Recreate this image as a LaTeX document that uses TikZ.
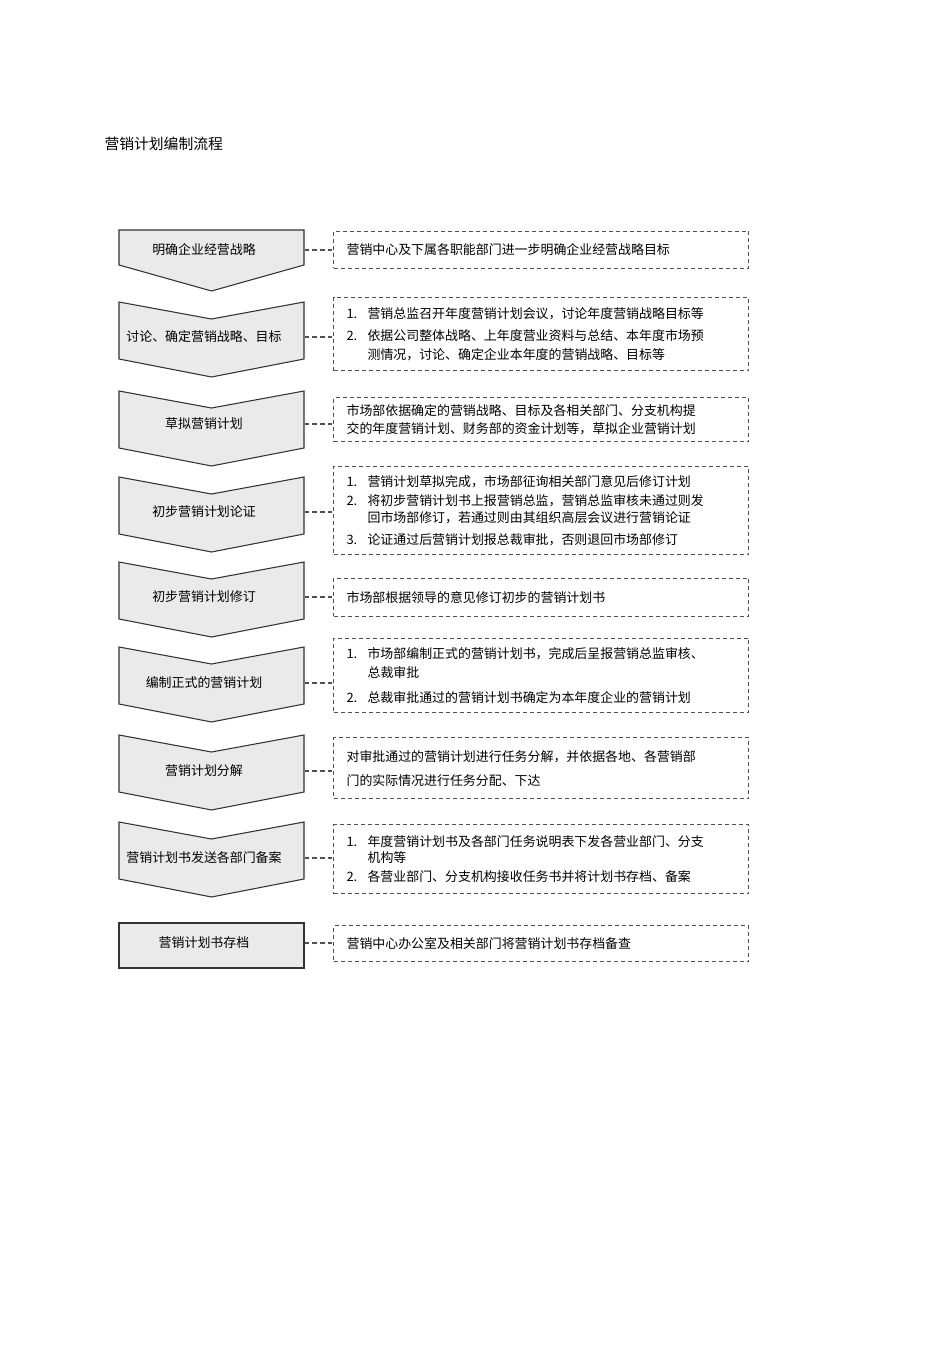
\documentclass[tikz,border=0pt]{standalone}
\usepackage{fontspec}
\setmainfont{Noto Sans CJK SC}

\newcommand\itemno[1]{\makebox[15.75pt][l]{#1}}
\newcommand\itemgap{\hspace*{15.75pt}}

\tikzset{every picture/.style={line width=0.75pt}}
\tikzset{
  stepshape/.style={draw={rgb, 255:red, 51; green, 51; blue, 51}, fill={rgb, 255:red, 234; green, 234; blue, 234}, fill opacity=1, line width=0.8pt},
  steptext/.style={minimum width=150pt, inner sep=0pt, font=\fontsize{9.7pt}{14.25pt}\selectfont},
  notebox/.style={draw={rgb, 255:red, 80; green, 80; blue, 80}, line width=0.85pt, dash pattern=on 3pt off 2.25pt, anchor=north west, minimum width=311.25pt, text width=291.75pt, inner xsep=9.75pt, inner ysep=0pt, align=left, font=\fontsize{9.7pt}{14.25pt}\selectfont},
  link/.style={draw={rgb, 255:red, 80; green, 80; blue, 80}, line width=1pt, dash pattern=on 3.5pt off 2.25pt}
}

\begin{document}
\begin{tikzpicture}[x=0.75pt,y=0.75pt,yscale=-1,xscale=1]
\useasboundingbox (0,0) rectangle (950,1345); %page size

% Title
\draw (104,144) node (title) [anchor=west, inner sep=0pt, font=\fontsize{11.1pt}{13pt}\selectfont] {营销计划编制流程};

%Pentagon Arrow
\draw [stepshape] (119,230) -- (304,230) -- (304,265) -- (211.5,291) -- (119,265) -- cycle ;
%Chevron Arrow
\draw [stepshape] (119,302) -- (211.5,319) -- (304,302) -- (304,359) -- (211.5,377) -- (119,359) -- cycle ;
%Chevron Arrow
\draw [stepshape] (119,391) -- (211.5,408) -- (304,391) -- (304,448) -- (211.5,466) -- (119,448) -- cycle ;
%Chevron Arrow
\draw [stepshape] (119,477) -- (211.5,494) -- (304,477) -- (304,534) -- (211.5,552) -- (119,534) -- cycle ;
%Chevron Arrow
\draw [stepshape] (119,562) -- (211.5,579) -- (304,562) -- (304,619) -- (211.5,637) -- (119,619) -- cycle ;
%Chevron Arrow
\draw [stepshape] (119,647) -- (211.5,664) -- (304,647) -- (304,704) -- (211.5,722) -- (119,704) -- cycle ;
%Chevron Arrow
\draw [stepshape] (119,735) -- (211.5,752) -- (304,735) -- (304,792) -- (211.5,810) -- (119,792) -- cycle ;
%Chevron Arrow
\draw [stepshape] (119,822) -- (211.5,839) -- (304,822) -- (304,879) -- (211.5,897) -- (119,879) -- cycle ;
%Rectangle
\draw [stepshape] (119,923) rectangle (304,968) ;

% Text Node
\draw (204,250) node (c1) [steptext] {明确企业经营战略};
% Text Node
\draw (204,337) node (c2) [steptext] {讨论、确定营销战略、目标};
% Text Node
\draw (204,424) node (c3) [steptext] {草拟营销计划};
% Text Node
\draw (204,512) node (c4) [steptext] {初步营销计划论证};
% Text Node
\draw (204,597) node (c5) [steptext] {初步营销计划修订};
% Text Node
\draw (204,683) node (c6) [steptext] {编制正式的营销计划};
% Text Node
\draw (204,771) node (c7) [steptext] {营销计划分解};
% Text Node
\draw (204,858) node (c8) [steptext] {营销计划书发送各部门备案};
% Text Node
\draw (204,943) node (c9) [steptext] {营销计划书存档};

% Note boxes
\draw (333,230.7) node (b1) [notebox, minimum height=27.75pt] {营销中心及下属各职能部门进一步明确企业经营战略目标};
\draw (333,296.7) node (b2) [notebox, minimum height=55pt] {\itemno{1.}营销总监召开年度营销计划会议，讨论年度营销战略目标等\\[2pt]
  \itemno{2.}依据公司整体战略、上年度营业资料与总结、本年度市场预\\
  \itemgap 测情况，讨论、确定企业本年度的营销战略、目标等};
\draw (333,397) node (b3) [notebox, minimum height=33pt] {市场部依据确定的营销战略、目标及各相关部门、分支机构提\\[-0.75pt]
  交的年度营销计划、财务部的资金计划等，草拟企业营销计划};
\draw (333,465.7) node (b4) [notebox, minimum height=66.45pt] {\itemno{1.}营销计划草拟完成，市场部征询相关部门意见后修订计划\\
  \itemno{2.}将初步营销计划书上报营销总监，营销总监审核未通过则发\\[-1pt]
  \itemgap 回市场部修订，若通过则由其组织高层会议进行营销论证\\[2pt]
  \itemno{3.}论证通过后营销计划报总裁审批，否则退回市场部修订};
\draw (333,577.7) node (b5) [notebox, minimum height=28.5pt] {市场部根据领导的意见修订初步的营销计划书};
\draw (333,637.7) node (b6) [notebox, minimum height=55.5pt] {\itemno{1.}市场部编制正式的营销计划书，完成后呈报营销总监审核、\\
  \itemgap 总裁审批\\[4.5pt]
  \itemno{2.}总裁审批通过的营销计划书确定为本年度企业的营销计划};
\draw (333,737.3) node (b7) [notebox, minimum height=45.75pt] {对审批通过的营销计划进行任务分解，并依据各地、各营销部\\[3.75pt]
  门的实际情况进行任务分配、下达};
\draw (333,824.3) node (b8) [notebox, minimum height=51.75pt] {\itemno{1.}年度营销计划书及各部门任务说明表下发各营业部门、分支\\[-2.75pt]
  \itemgap 机构等\\[0.5pt]
  \itemno{2.}各营业部门、分支机构接收任务书并将计划书存档、备案};
\draw (333,925) node (b9) [notebox, minimum height=27pt] {营销中心办公室及相关部门将营销计划书存档备查};

% Dashed links
\draw [link] (c1.east) -- (c1.east -| b1.west);
\draw [link] (c2.east) -- (c2.east -| b2.west);
\draw [link] (c3.east) -- (c3.east -| b3.west);
\draw [link] (c4.east) -- (c4.east -| b4.west);
\draw [link] (c5.east) -- (c5.east -| b5.west);
\draw [link] (c6.east) -- (c6.east -| b6.west);
\draw [link] (c7.east) -- (c7.east -| b7.west);
\draw [link] (c8.east) -- (c8.east -| b8.west);
\draw [link] (c9.east) -- (c9.east -| b9.west);

\end{tikzpicture}
\end{document}
